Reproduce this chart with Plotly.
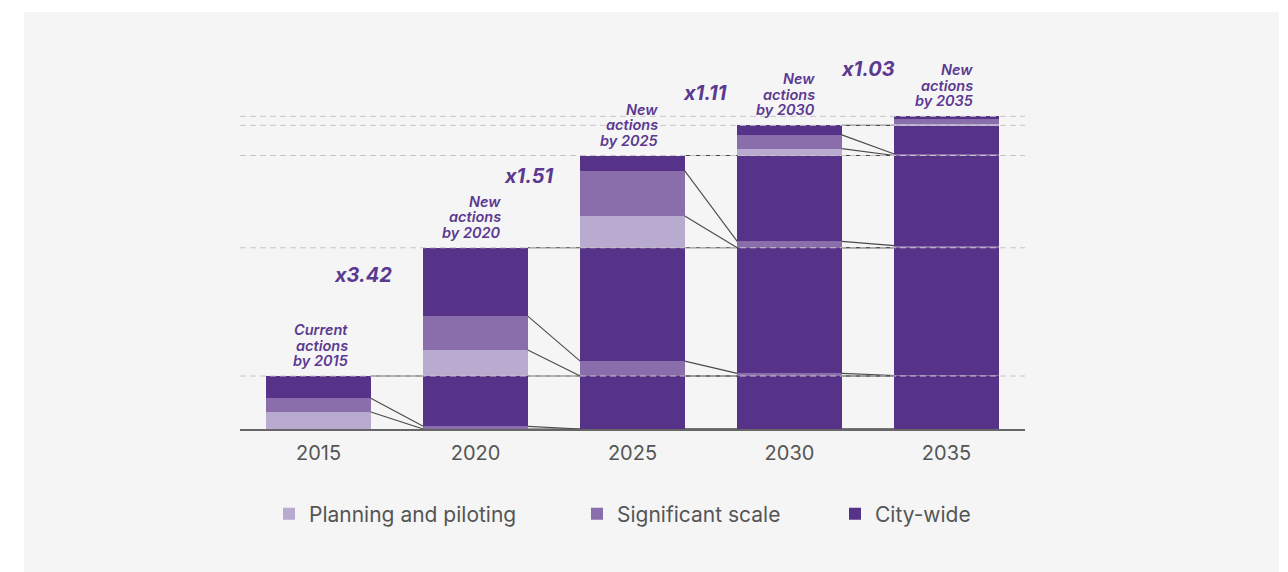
import plotly.graph_objects as go

# ---------------- data (units: 2015 total = 100) ----------------
years = ["2015", "2020", "2025", "2030", "2035"]
cohorts = ["2015", "2020", "2025", "2030", "2035"]
stage_names = ["Planning and piloting", "Significant scale", "City-wide"]

plan_2015 = [32, 0, 0, 0, 0]
sig_2015 = [26, 5, 0, 0, 0]
city_2015 = [42, 95, 100, 100, 100]

plan_2020 = [0, 49, 0, 0, 0]
sig_2020 = [0, 64, 28, 5, 1]
city_2020 = [0, 129, 214, 237, 241]

plan_2025 = [0, 0, 60, 0, 0]
sig_2025 = [0, 0, 85, 12, 4]
city_2025 = [0, 0, 29, 162, 170]

plan_2030 = [0, 0, 0, 13, 0]
sig_2030 = [0, 0, 0, 26, 3]
city_2030 = [0, 0, 0, 18, 54]

plan_2035 = [0, 0, 0, 0, 2]
sig_2035 = [0, 0, 0, 0, 10]
city_2035 = [0, 0, 0, 0, 5]

label_lines = [["Current", "actions", "by 2015"],
               ["New", "actions", "by 2020"],
               ["New", "actions", "by 2025"],
               ["New", "actions", "by 2030"],
               ["New", "actions", "by 2035"]]
multipliers = ["x3.42", "x1.51", "x1.11", "x1.03"]

# ---------------- styling ----------------
stage_colors = ["#b9aacf", "#8a6dab", "#573289"]
label_color = "#5b3991"
FONT = "Inter"
BAR_W = 0.666

series = {
    "2015": [plan_2015, sig_2015, city_2015],
    "2020": [plan_2020, sig_2020, city_2020],
    "2025": [plan_2025, sig_2025, city_2025],
    "2030": [plan_2030, sig_2030, city_2030],
    "2035": [plan_2035, sig_2035, city_2035],
}
legend_ids = ["legend", "legend2", "legend3"]

fig = go.Figure()
xs = list(range(len(years)))
for ci, c in enumerate(cohorts):
    for si, vals in enumerate(series[c]):
        fig.add_trace(go.Bar(
            x=xs, y=vals, width=BAR_W,
            marker=dict(color=stage_colors[si], line=dict(width=0)),
            name=stage_names[si], legendgroup=stage_names[si],
            showlegend=(ci == 0), legend=legend_ids[si],
            hoverinfo="skip",
        ))

# cumulative boundaries per bar
n = len(years)
bounds = {}
base = [0] * n
for c in cohorts:
    run = base[:]
    for si, vals in enumerate(series[c]):
        run = [run[i] + vals[i] for i in range(n)]
        bounds[(c, si)] = run[:]
    base = run[:]
totals = base

# connector lines between bars
lx, ly = [], []
half = BAR_W / 2
for ci, c in enumerate(cohorts):
    for i in range(ci, n - 1):
        for si in range(3):
            lx += [i + half, i + 1 - half, None]
            ly += [bounds[(c, si)][i], bounds[(c, si)][i + 1], None]
fig.add_trace(go.Scatter(x=lx, y=ly, mode="lines", line=dict(color="#4a4a4a", width=1.1),
                         showlegend=False, hoverinfo="skip"))

# ---------------- geometry (page has 8px body margin) ----------------
OFF = 8
W, H = 1288 - OFF, 572 - OFF
plot_left, plot_right = 240 - OFF, 1025 - OFF
plot_top, plot_bottom = 40 - OFF, 429 - OFF
ml, mr, mt, mb = plot_left, W - plot_right, plot_top, H - plot_bottom
plot_w = plot_right - plot_left
plot_h = plot_bottom - plot_top
YMAX = 734


def px_to_paper_x(px):
    return (px - OFF - plot_left) / plot_w


def px_to_paper_y(py):
    return (plot_bottom - (py - OFF)) / plot_h


shapes = [dict(type="rect", xref="paper", yref="paper",
               x0=px_to_paper_x(24), x1=px_to_paper_x(1279),
               y0=px_to_paper_y(580), y1=px_to_paper_y(12),
               fillcolor="#f5f5f5", line=dict(width=0), layer="below")]
for t in totals:
    shapes.append(dict(type="line", xref="paper", yref="y", x0=0, x1=1, y0=t, y1=t,
                       line=dict(color="#c6c6c6", width=1, dash="6px,4px"), layer="above"))

annotations = []
label_dx = [0.2, 0.175, 0.175, 0.175, 0.18]
LINE_PITCH = 15.5
for i, t in enumerate(totals):
    lines = label_lines[i]
    for k, line in enumerate(lines):
        annotations.append(dict(
            x=i + label_dx[i], y=t, xref="x", yref="y", text=line, showarrow=False,
            xanchor="right", yanchor="bottom",
            yshift=5 + (len(lines) - 1 - k) * LINE_PITCH, align="right",
            font=dict(family=FONT, size=14.5, color=label_color, style="italic", weight=600)))

mult_pos = [(0.283, 291), (1.34, 477), (2.46, 634), (3.5, 679)]
for (mx, my), txt in zip(mult_pos, multipliers):
    annotations.append(dict(x=mx, y=my, xref="x", yref="y", text=txt, showarrow=False,
                            xanchor="center", yanchor="middle",
                            font=dict(family=FONT, size=20, color=label_color,
                                      style="italic", weight=700)))

legend_common = dict(orientation="h", yanchor="middle", y=px_to_paper_y(514),
                     xanchor="left", bgcolor="rgba(0,0,0,0)",
                     font=dict(family=FONT, size=21, color="#555555"))
leg_px = [289, 597, 855]

fig.update_layout(
    width=W, height=H, barmode="stack", bargap=0,
    margin=dict(l=ml, r=mr, t=mt, b=mb),
    paper_bgcolor="white", plot_bgcolor="rgba(0,0,0,0)",
    xaxis=dict(range=[-0.5, 4.5], tickvals=xs, ticktext=years, showline=True,
               linecolor="#666666", linewidth=1.5, showgrid=False, zeroline=False,
               ticks="", ticklabelstandoff=5,
               tickfont=dict(family=FONT, size=20, color="#555555"),
               fixedrange=True),
    yaxis=dict(range=[0, YMAX], visible=False, showgrid=False, zeroline=False),
    shapes=shapes, annotations=annotations,
    legend=dict(legend_common, x=px_to_paper_x(leg_px[0] - 20)),
    legend2=dict(legend_common, x=px_to_paper_x(leg_px[1] - 20)),
    legend3=dict(legend_common, x=px_to_paper_x(leg_px[2] - 20)),
)

fig.write_html("out.html")
